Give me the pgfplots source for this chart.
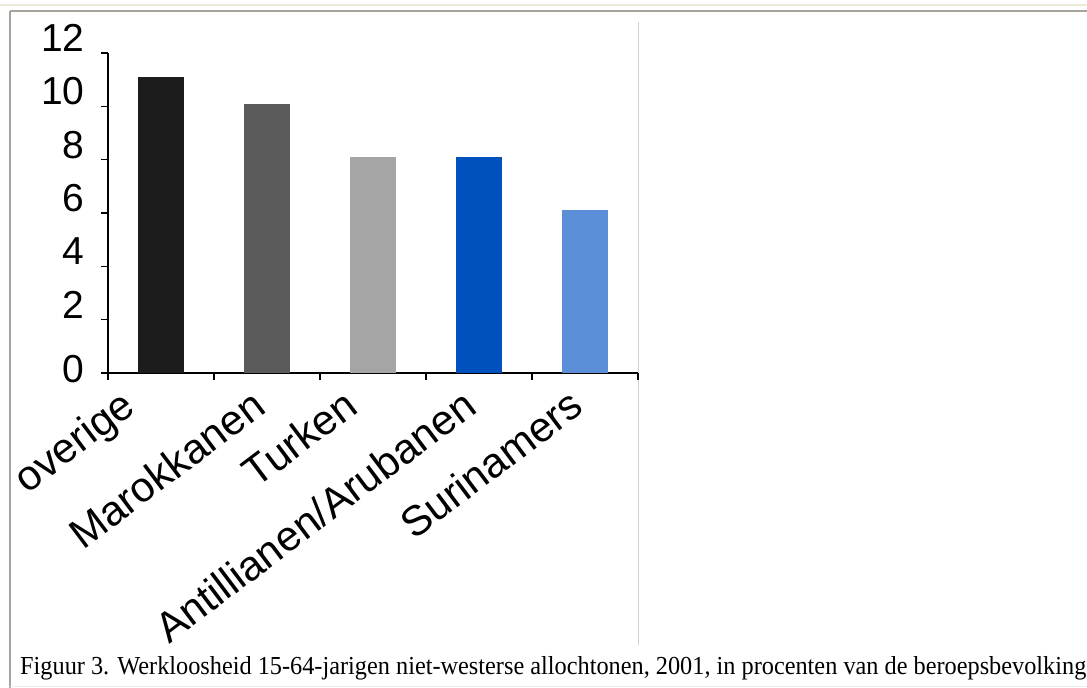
\documentclass[border=0pt]{standalone}
\usepackage{fontspec}
\setmainfont{Liberation Serif}
\newfontfamily\arial{Liberation Sans}
\usepackage{pgfplots}
\pgfplotsset{compat=1.18}
\definecolor{cA}{HTML}{1C1C1C}
\definecolor{cB}{HTML}{5A5A5A}
\definecolor{cC}{HTML}{A5A5A5}
\definecolor{cD}{HTML}{0050BE}
\definecolor{cE}{HTML}{5B8ED7}
\definecolor{framebeige}{HTML}{EFE9DC}
\definecolor{framegray}{HTML}{A8A49C}
\begin{document}
\begin{tikzpicture}[x=1pt,y=1pt]
\useasboundingbox (0,0) rectangle (1087,688);
\fill[white] (0,0) rectangle (1087,688);
% page frame
\draw[framebeige, line width=1.5pt] (0,683) -- (1087,683);
\draw[framegray, line width=1.5pt] (10,677) -- (1087,677);
\draw[framegray, line width=1.5pt] (10,677) -- (10,0);
\draw[gray!15, line width=1pt] (10,1) -- (1087,1);
% separator line
\draw[gray!35, line width=1pt] (638,666) -- (638,43);
\begin{axis}[
  at={(108pt,315pt)}, anchor=south west,
  scale only axis, width=530pt, height=320pt,
  xmin=-0.5, xmax=4.5, ymin=0, ymax=12,
  axis x line*=bottom, axis y line*=left,
  axis line style={line width=1.4pt,-},
  tick style={line width=1.2pt, black},
  tick align=outside, major tick length=7pt,
  xtick={-0.5,0.5,...,4.5},
  xticklabels={},
  extra x ticks={-0.35,0.88,1.75,2.87,3.88},
  extra x tick labels={overige,Marokkanen,Turken,Antillianen/Arubanen,Surinamers},
  extra x tick style={major tick length=0pt,
    xticklabel style={rotate=37, anchor=north east, inner sep=0pt,
    font=\arial\fontsize{42}{46}\selectfont, xshift=-12pt, yshift=-8pt}},
  ytick={2,4,...,12},
  extra y ticks={0},
  extra y tick style={yticklabel style={yshift=-11pt}},
  yticklabel style={font=\arial\fontsize{39}{43}\selectfont, yshift=15pt, xshift=-13pt},
  /pgf/number format/assume math mode=true,
  ybar, bar width=46pt,
]
\addplot[fill=cA, draw=none, bar shift=0pt] coordinates {(0,11.1)};
\addplot[fill=cB, draw=none, bar shift=0pt] coordinates {(1,10.1)};
\addplot[fill=cC, draw=none, bar shift=0pt] coordinates {(2,8.1)};
\addplot[fill=cD, draw=none, bar shift=0pt] coordinates {(3,8.1)};
\addplot[fill=cE, draw=none, bar shift=0pt] coordinates {(4,6.1)};
\end{axis}
\node[anchor=base west, inner sep=0pt] at (20,13)
  {\resizebox{1066pt}{18pt}{Figuur 3. Werkloosheid 15-64-jarigen niet-westerse allochtonen, 2001, in procenten van de beroepsbevolking}};
\end{tikzpicture}
\end{document}
